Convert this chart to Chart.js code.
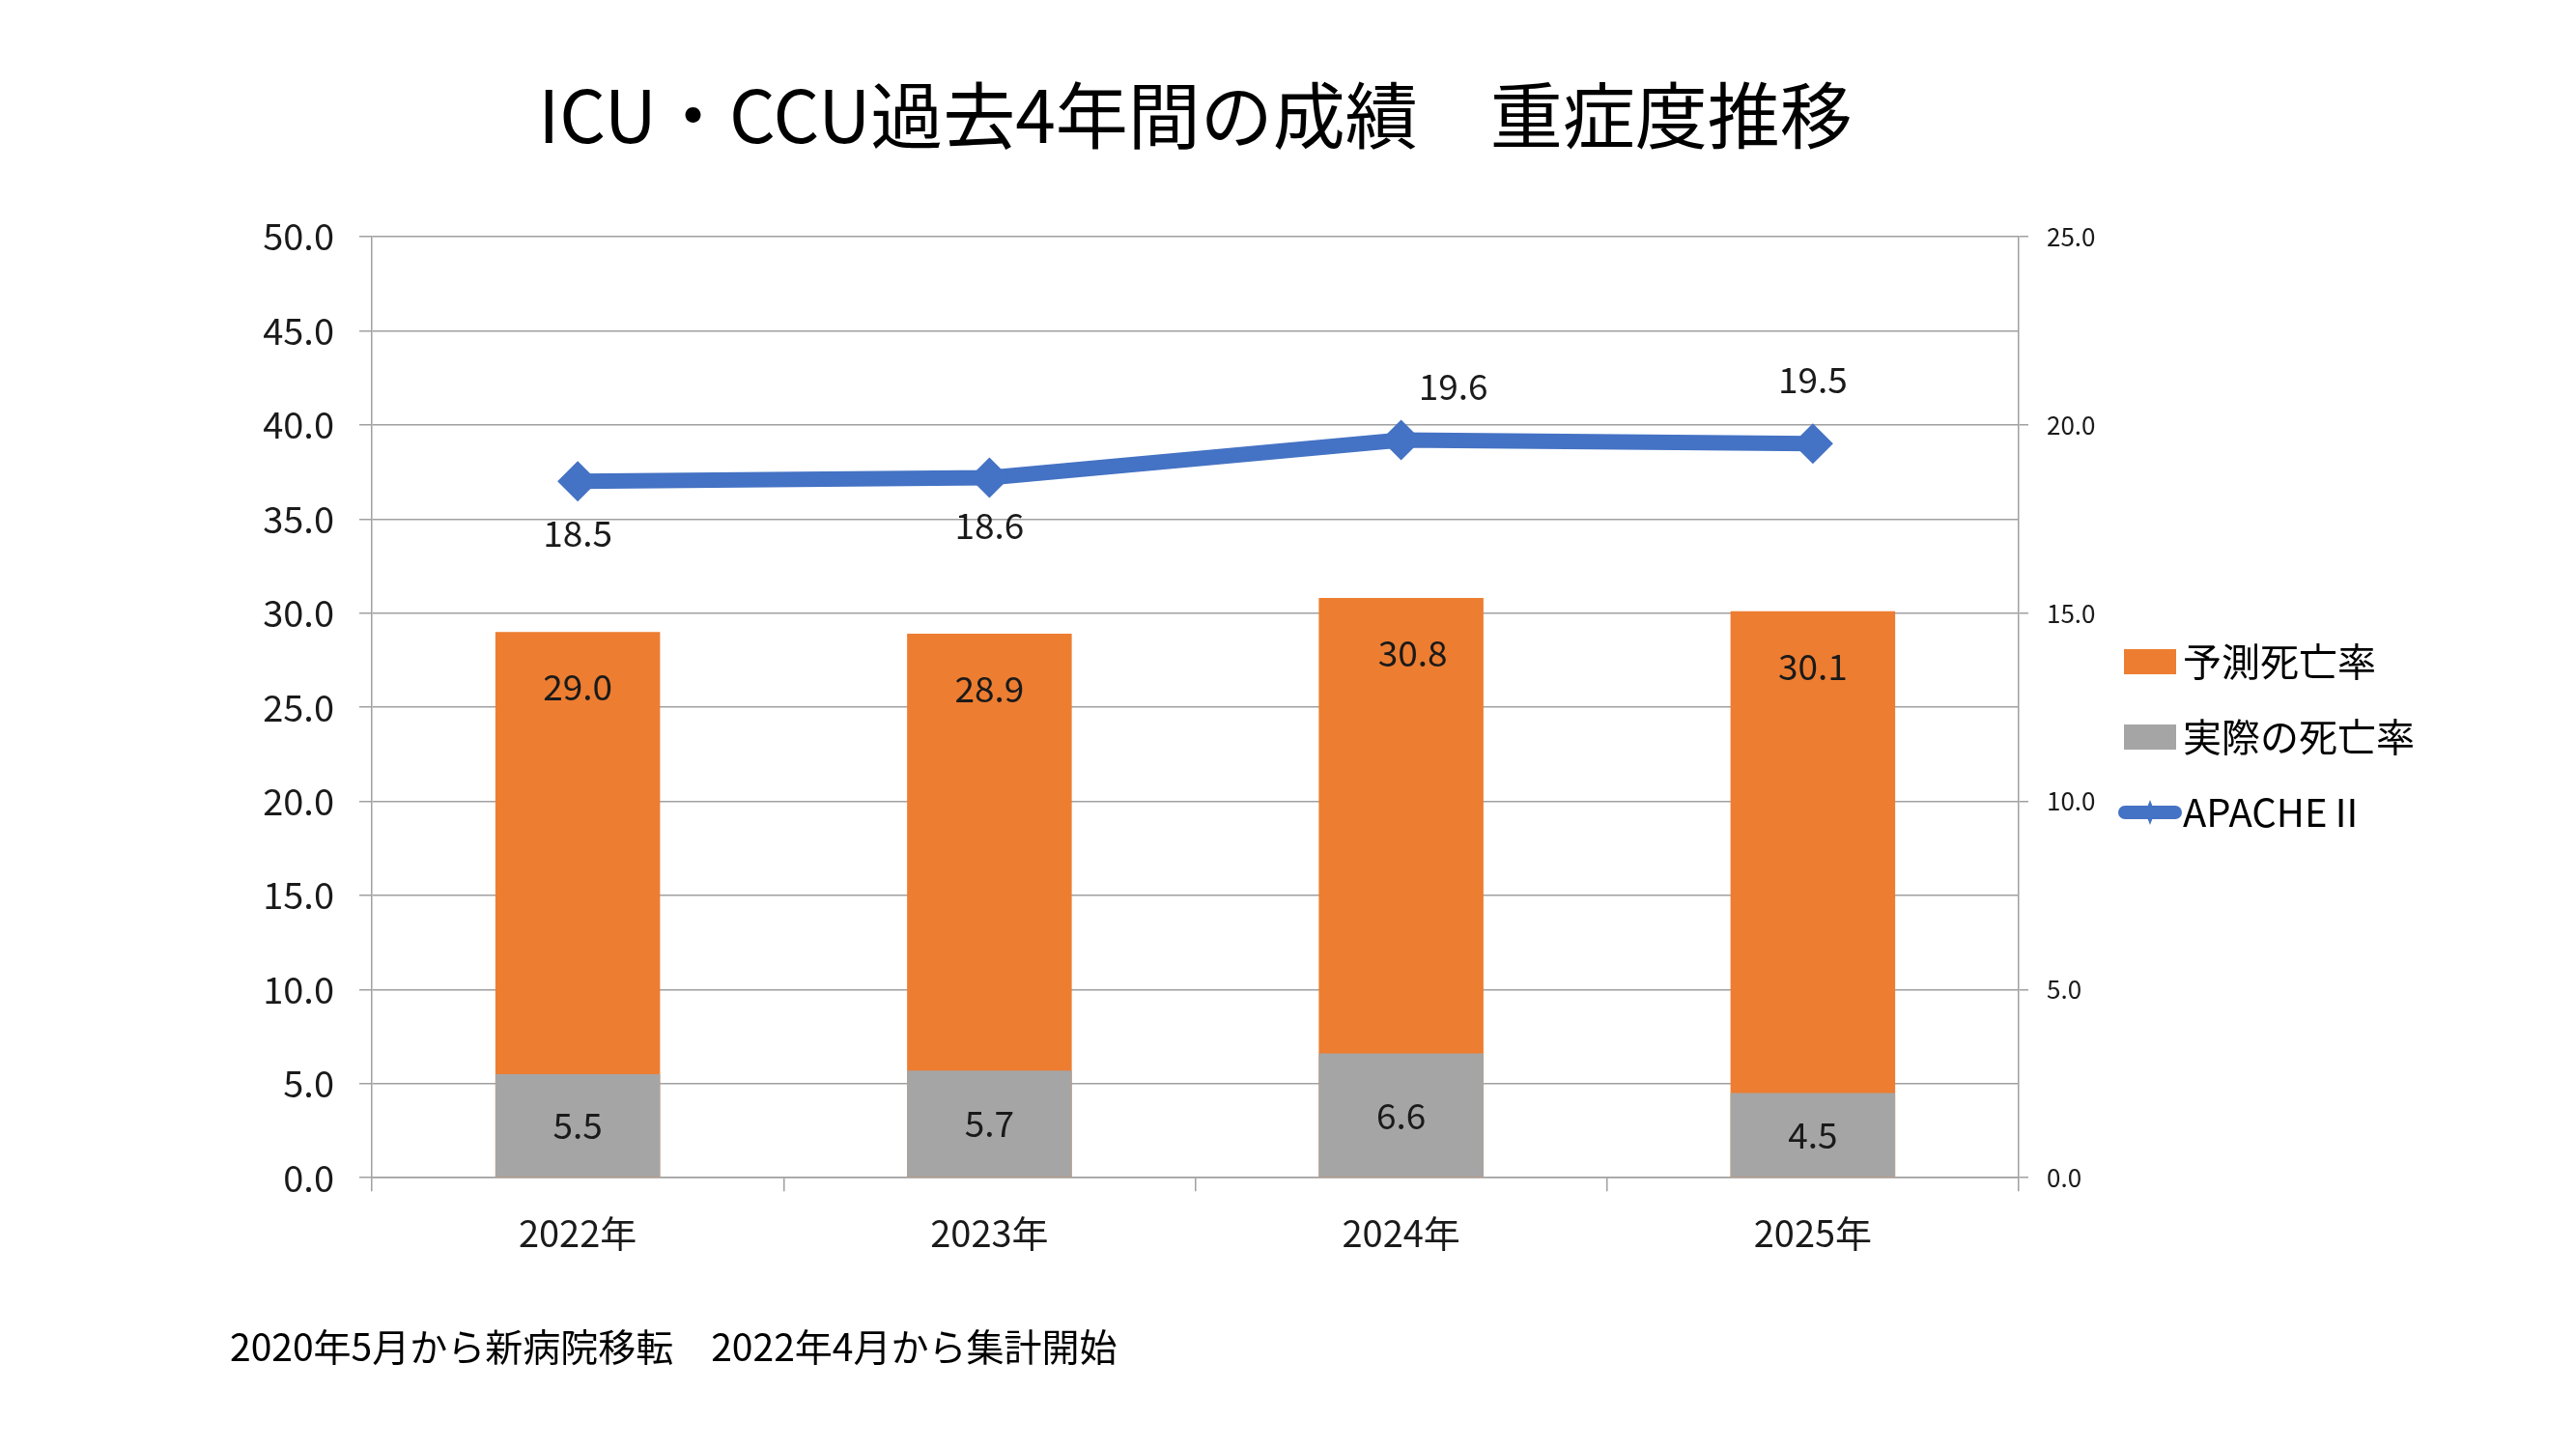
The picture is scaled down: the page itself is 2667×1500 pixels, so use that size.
<!DOCTYPE html>
<html>
<head>
<meta charset="utf-8">
<script src="https://cdn.jsdelivr.net/npm/chart.js@4.4.1/dist/chart.umd.min.js"></script>
<style>
  html, body { margin: 0; padding: 0; background: #fff; }
  canvas { display: block; }
</style>
</head>
<body>
<canvas id="chart" width="2667" height="1500"></canvas>
<script>
// categories and values
const years = ['2022年', '2023年', '2024年', '2025年'];
const predicted_Mortality = [29.0, 28.9, 30.8, 30.1];
const actual_Mortality = [5.5, 5.7, 6.6, 4.5];
const apache_Score = [18.5, 18.6, 19.6, 19.5];

const FONT = '"Noto Sans CJK JP", "Noto Sans", sans-serif';
const ORANGE = '#ED7D31';
const GREY = '#A5A5A5';
const BLUE = '#4472C4';
const GRID = '#A0A0A0';

// label nudges (pixels) - the APACHE labels sit below / above the points
const lineLabelOffsetY = [54, 50, -55, -66];
const lineLabelShiftX = [0, 0, 54, 0];
const barLabelShiftX = [0, 0, 12, 0];

// legend icons
function rect_Legend_Icon(color) {
    const c = document.createElement('canvas');
    c.width = 54;
    c.height = 26;
    const g = c.getContext('2d');
    g.fillStyle = color;
    g.fillRect(0, 0, 54, 26);
    return c;
}

function line_Legend_Icon() {
    const c = document.createElement('canvas');
    c.width = 68;
    c.height = 30;
    const g = c.getContext('2d');
    g.strokeStyle = BLUE;
    g.fillStyle = BLUE;
    g.lineCap = 'round';
    g.lineWidth = 14;
    g.beginPath();
    g.moveTo(8, 15);
    g.lineTo(60, 15);
    g.stroke();
    g.beginPath();
    g.moveTo(34, 2);
    g.lineTo(39, 15);
    g.lineTo(34, 28);
    g.lineTo(29, 15);
    g.closePath();
    g.fill();
    return c;
}

// draw the value labels
const valueLabels = {
    id: 'valueLabels',
    afterDatasetsDraw(chart) {
        const ctx = chart.ctx;
        ctx.save();
        ctx.font = '37px ' + FONT;
        ctx.fillStyle = '#1a1a1a';
        ctx.textAlign = 'center';
        ctx.textBaseline = 'middle';
        chart.data.datasets.forEach((ds, i) => {
            const meta = chart.getDatasetMeta(i);
            meta.data.forEach((el, j) => {
                const txt = ds.data[j].toFixed(1);
                let x = el.x;
                let y;
                if (ds.labelPos === 'middle') {
                    y = (el.y + el.base) / 2;
                } else if (ds.labelPos === 'inside') {
                    y = el.y + 57;
                    x += barLabelShiftX[j];
                } else {
                    y = el.y + lineLabelOffsetY[j];
                    x += lineLabelShiftX[j];
                }
                ctx.fillText(txt, x, y);
            });
        });
        ctx.restore();
    }
};

const ctx = document.getElementById('chart').getContext('2d');
new Chart(ctx, {
    data: {
        labels: years,
        datasets: [
            {
                type: 'bar',
                label: '予測死亡率',
                data: predicted_Mortality,
                backgroundColor: ORANGE,
                yAxisID: 'y',
                grouped: false,
                order: 2,
                labelPos: 'inside'
            },
            {
                type: 'bar',
                label: '実際の死亡率',
                data: actual_Mortality,
                backgroundColor: GREY,
                yAxisID: 'y',
                grouped: false,
                order: 1,
                labelPos: 'middle'
            },
            {
                type: 'line',
                label: 'APACHEⅡ',
                data: apache_Score,
                borderColor: BLUE,
                backgroundColor: BLUE,
                borderWidth: 16,
                pointStyle: 'rectRot',
                pointRadius: 21,
                pointBorderWidth: 0,
                yAxisID: 'y1',
                order: 0,
                labelPos: 'line'
            }
        ]
    },
    options: {
        responsive: false,
        devicePixelRatio: 1,
        animation: false,
        layout: { padding: { left: 238, right: 157, top: 0, bottom: 0 } },
        datasets: {
            bar: { barPercentage: 0.4, categoryPercentage: 1.0 }
        },
        plugins: {
            tooltip: { enabled: false },
            title: {
                display: true,
                text: 'ICU・CCU過去4年間の成績　重症度推移',
                fullSize: false,
                color: '#000',
                font: { family: FONT, size: 75, weight: 'normal' },
                padding: { top: 74, bottom: 81 }
            },
            subtitle: {
                display: true,
                text: '2020年5月から新病院移転　2022年4月から集計開始',
                position: 'bottom',
                align: 'start',
                color: '#000',
                font: { family: FONT, size: 39, weight: 'normal' },
                padding: { top: 71, bottom: 82 }
            },
            legend: {
                position: 'right',
                align: 'start',
                fullSize: false,
                title: { display: true, text: ' ', padding: 167, font: { size: 40 } },
                labels: {
                    usePointStyle: true,
                    pointStyleWidth: 28,
                    boxHeight: 26,
                    padding: 38,
                    color: '#000',
                    font: { family: FONT, size: 40 },
                    sort: (a, b) => a.datasetIndex - b.datasetIndex,
                    generateLabels(chart) {
                        const items = Chart.defaults.plugins.legend.labels.generateLabels(chart);
                        items.forEach(it => {
                            const ds = chart.data.datasets[it.datasetIndex];
                            it.pointStyle = ds.type === 'line'
                                ? line_Legend_Icon()
                                : rect_Legend_Icon(ds.backgroundColor);
                            it.lineWidth = 0;
                        });
                        return items;
                    }
                }
            }
        },
        scales: {
            x: {
                offset: true,
                grid: { offset: true, drawOnChartArea: false, drawTicks: true, tickLength: 14, color: GRID, lineWidth: 1.5 },
                border: { display: true, color: GRID, width: 1.5 },
                ticks: { color: '#1a1a1a', padding: 21, font: { family: FONT, size: 38 } },
                afterFit(s) { s.height = 81; }
            },
            y: {
                position: 'left',
                min: 0,
                max: 50,
                grid: { color: GRID, lineWidth: 1.5, tickLength: 13 },
                border: { display: true, color: GRID, width: 1.5 },
                ticks: {
                    stepSize: 5,
                    color: '#1a1a1a',
                    padding: 26,
                    font: { family: FONT, size: 38 },
                    callback: v => v.toFixed(1)
                },
                afterFit(s) { s.width = 147; }
            },
            y1: {
                position: 'right',
                min: 0,
                max: 25,
                grid: { drawOnChartArea: false, color: GRID, lineWidth: 1.5, tickLength: 10 },
                border: { display: true, color: GRID, width: 1.5 },
                ticks: {
                    stepSize: 5,
                    color: '#1a1a1a',
                    padding: 19,
                    font: { family: FONT, size: 26 },
                    callback: v => v.toFixed(1)
                },
                afterFit(s) { s.width = 84; }
            }
        }
    },
    plugins: [valueLabels]
});
</script>
</body>
</html>
